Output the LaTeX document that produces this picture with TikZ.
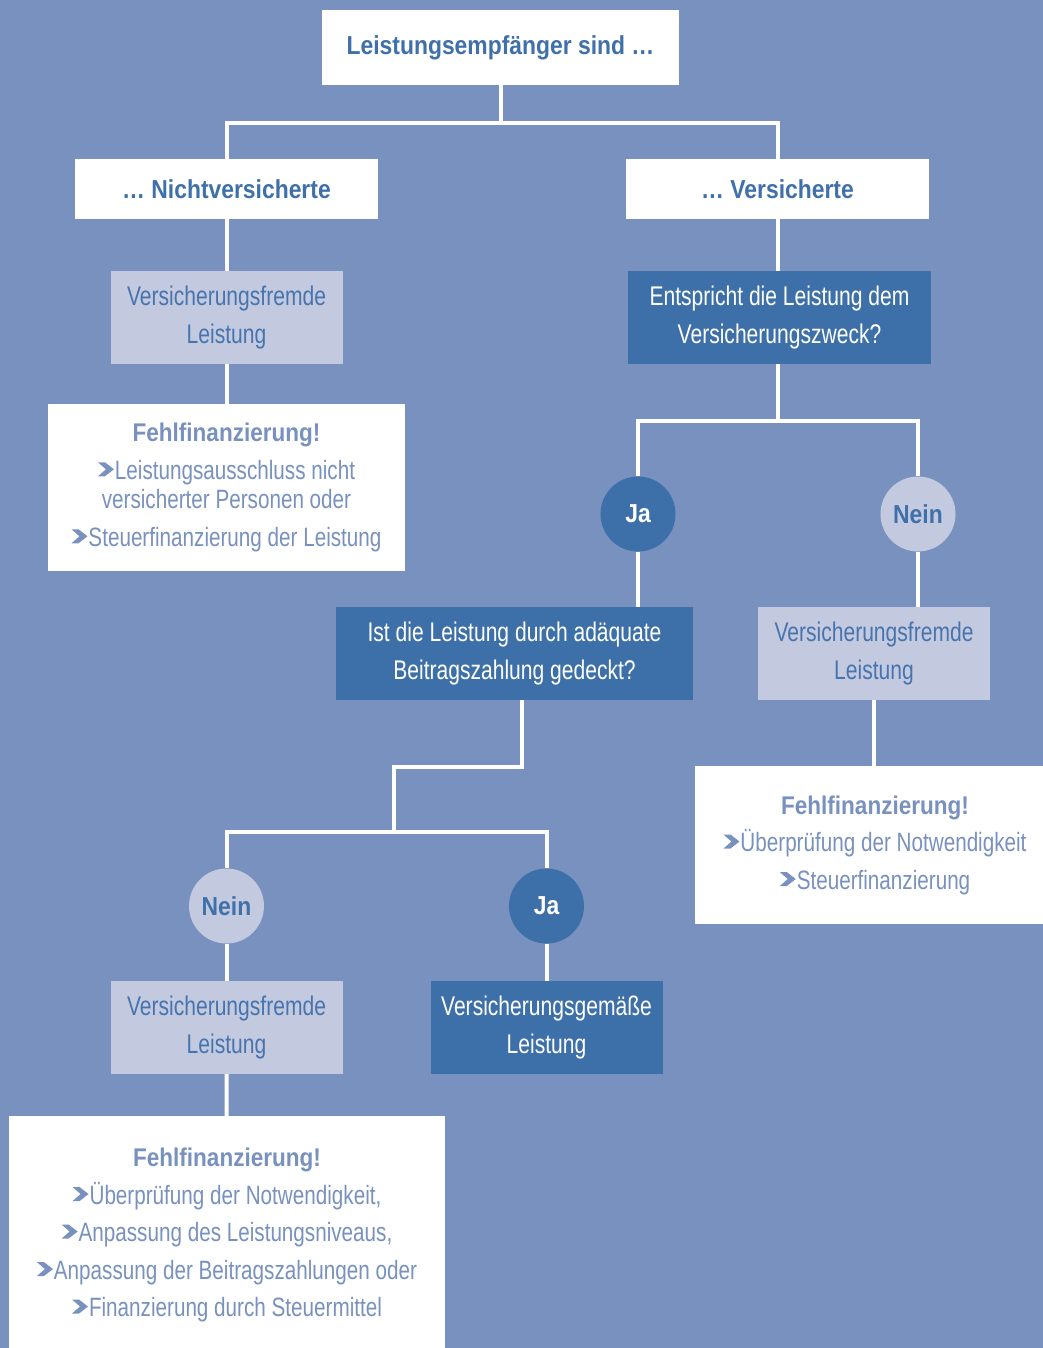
\documentclass[tikz,border=0pt]{standalone}
\usepackage{fontspec}
\setmainfont{Liberation Sans}[FakeStretch=0.78, BoldFeatures={FakeStretch=0.88}]
\usepackage{xcolor}
\usepackage{tikz}
\usetikzlibrary{calc,positioning}
\definecolor{bg}{HTML}{7891BF}
\definecolor{deep}{HTML}{3D70A8}
\definecolor{pale}{HTML}{C3CADF}
\definecolor{ink}{HTML}{3F70AA}
\definecolor{mid}{HTML}{4774AE}
\definecolor{soft}{HTML}{7891BF}
\newcommand{\chev}{\tikz[x=1pt,y=1pt,baseline=0pt]\fill[soft] (0,3)--(7,3)--(16,10)--(7,17)--(0,17)--(8,10)--cycle;\kern1pt}
\tikzset{
  conn/.style={draw=white, line width=4pt},
  head/.style={fill=white, text=ink, font=\fontsize{26}{30}\selectfont\bfseries, inner sep=0pt},
  paleb/.style={fill=pale, text=mid, font=\fontsize{27}{38}\selectfont, align=center, inner sep=0pt,
    minimum width=232pt, minimum height=93pt},
  deepb/.style={fill=deep, text=white, font=\fontsize{27}{38}\selectfont, align=center, inner sep=0pt,
    minimum height=93pt},
  warn/.style={fill=white, text=soft, font=\fontsize{26.5}{37.5}\selectfont, align=center, inner sep=0pt},
  yes/.style={circle, fill=deep, text=white, font=\fontsize{26}{30}\selectfont\bfseries, minimum size=75pt, inner sep=0pt},
  no/.style={circle, fill=pale, text=ink, font=\fontsize{26}{30}\selectfont\bfseries, minimum size=75pt, inner sep=0pt},
}
\newcommand{\warnhead}{{\fontsize{25.6}{30}\selectfont\bfseries Fehlfinanzierung!}}
\begin{document}
\begin{tikzpicture}[x=1pt,y=-1pt]
  \fill[bg] (0,0) rectangle (1043,1348);
  \useasboundingbox (0,0) rectangle (1043,1348);

  % top of the tree
  \node[head, minimum width=357pt, minimum height=75pt] (top) at (500.5,47.5) {Leistungsempfänger sind \dots};
  \node[head, minimum width=303pt, minimum height=60pt] (nv) at (226.5,189) {\dots\ Nichtversicherte};
  \node[head, minimum width=303pt, minimum height=60pt] (vs) at (777.5,189) {\dots\ Versicherte};

  % left branch
  \node[paleb] (lf1) at (226.5,317.5) {Versicherungsfremde\\Leistung};
  \node[warn, minimum width=357pt, minimum height=167pt] (ff1) at (226.5,487.5)
    {\warnhead\\\chev Leistungsausschluss nicht\\[-8pt]versicherter Personen oder\\\chev Steuerfinanzierung der Leistung};

  % right branch
  \node[deepb, minimum width=303pt] (q1) at (779.5,317.5) {Entspricht die Leistung dem\\Versicherungszweck?};
  \node[yes] (ja1) at (638,514) {Ja};
  \node[no] (nein1) at (918,514) {Nein};
  \node[deepb, minimum width=357pt] (q2) at (514.5,653.5) {Ist die Leistung durch adäquate\\Beitragszahlung gedeckt?};
  \node[paleb] (lf2) at (874,653.5) {Versicherungsfremde\\Leistung};
  \node[warn, minimum width=360pt, minimum height=158pt] (ff2) at (875,845)
    {\warnhead\\\chev Überprüfung der Notwendigkeit\\\chev Steuerfinanzierung};

  % lower part
  \node[no] (nein2) at (226.5,906) {Nein};
  \node[yes] (ja2) at (546.5,906) {Ja};
  \node[paleb] (lf3) at (226.5,1027.5) {Versicherungsfremde\\Leistung};
  \node[deepb, minimum width=232pt] (ok) at (546.5,1027.5) {Versicherungsgemäße\\Leistung};
  \node[warn, minimum width=436pt, minimum height=238pt] (ff3) at (227,1235)
    {\warnhead\\\chev Überprüfung der Notwendigkeit,\\\chev Anpassung des Leistungsniveaus,\\
     \chev Anpassung der Beitragszahlungen oder\\\chev Finanzierung durch Steuermittel};

  % connectors
  \coordinate (s1) at (500.5,123);
  \coordinate (s2) at (778,421);
  \coordinate (b1) at (522,767);
  \coordinate (b2) at (394,832);
  \draw[conn] (top) -- (s1);
  \draw[conn] (nv) |- (s1) -| (vs);
  \draw[conn] (nv) -- (lf1);
  \draw[conn] (lf1) -- (ff1);
  \draw[conn] (vs.south -| s2) -- (q1.north -| s2);
  \draw[conn] (q1.south -| s2) -- (s2);
  \draw[conn] (ja1) |- (s2) -| (nein1);
  \draw[conn] (ja1) -- (ja1 |- q2.north);
  \draw[conn] (nein1) -- (nein1 |- lf2.north);
  \draw[conn] (lf2) -- (lf2 |- ff2.north);
  \draw[conn] (q2.south -| b1) -- (b1) -- (b1 -| b2) -- (b2);
  \draw[conn] (nein2) |- (b2) -| (ja2);
  \draw[conn] (nein2) -- (lf3);
  \draw[conn] (ja2) -- (ok);
  \draw[conn] (lf3) -- (ff3);
\end{tikzpicture}
\end{document}
